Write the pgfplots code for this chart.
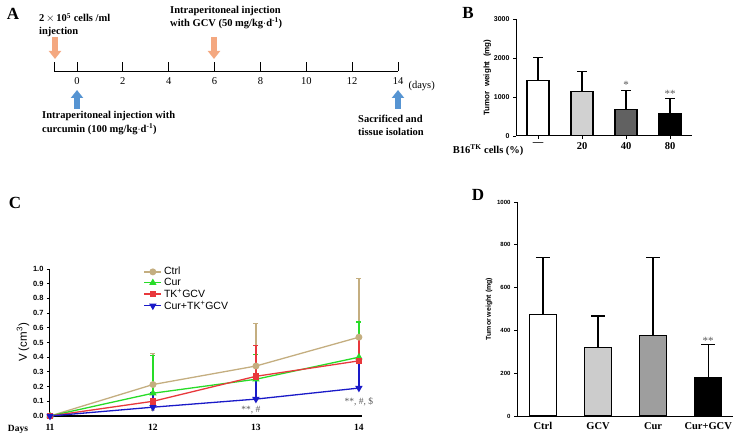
\documentclass[border=0pt]{standalone}
\usepackage{fontspec}
\setmainfont{Liberation Serif}
\setsansfont{Liberation Sans}
\usepackage{pgfplots}
\pgfplotsset{compat=1.18}
\usetikzlibrary{arrows.meta}

\definecolor{arrowor}{RGB}{244,168,128}
\definecolor{arrowbl}{RGB}{86,148,210}
\definecolor{ctrl}{RGB}{196,174,128}
\definecolor{cur}{RGB}{40,220,40}
\definecolor{tk}{RGB}{232,56,60}
\definecolor{curtk}{RGB}{26,26,200}
\definecolor{note}{RGB}{90,90,90}

\begin{document}
\begin{tikzpicture}[x=1pt,y=1pt]
\path[use as bounding box] (0,0) rectangle (748,437);

% panel letters
\node[font=\bfseries\fontsize{17}{17}\selectfont] at (13,423) {A};
\node[font=\bfseries\fontsize{17}{17}\selectfont] at (468,424) {B};
\node[font=\bfseries\fontsize{17}{17}\selectfont] at (15,234) {C};
\node[font=\bfseries\fontsize{17}{17}\selectfont] at (478,242) {D};

% ---------------- A: timeline
\begin{axis}[
    at={(54pt,366pt)}, anchor=south west,
    scale only axis, width=344pt, height=20pt,
    xmin=-1, xmax=14, ymin=0, ymax=1,
    axis x line=bottom, axis y line=none,
    axis line style={-, line width=0.8pt},
    xtick={-1,0,2,4,6,8,10,12,14},
    xticklabels={,0,2,4,6,8,10,12,14},
    tick align=inside, major tick length=9pt,
    tick style={line width=0.8pt, black},
    xticklabel style={font=\fontsize{10.5}{12}\selectfont, yshift=-3pt},
]
\end{axis}
\node[anchor=west, font=\fontsize{10.5}{12}\selectfont] at (405,351) {(days)};
\draw[arrowor, line width=6pt, -{Triangle[width=12pt,length=8pt]}] (55,400) -- (55,378);
\draw[arrowor, line width=6pt, -{Triangle[width=12pt,length=8pt]}] (214,400) -- (214,378);
\draw[arrowbl, line width=6pt, -{Triangle[width=12pt,length=8pt]}] (77,328) -- (77,347);
\draw[arrowbl, line width=6pt, -{Triangle[width=12pt,length=8pt]}] (398,328) -- (398,347);
\node[anchor=north west, align=left, font=\bfseries\fontsize{10.5}{13}\selectfont, inner sep=0pt]
  at (39,424) {2\,$\times$\,10\textsuperscript{5} cells /ml\\ injection};
\node[anchor=north west, align=left, font=\bfseries\fontsize{10.5}{13}\selectfont, inner sep=0pt]
  at (170,431) {Intraperitoneal injection\\with GCV (50 mg/kg$\cdot$d\textsuperscript{-1})};
\node[anchor=north west, align=left, font=\bfseries\fontsize{10.5}{14}\selectfont, inner sep=0pt]
  at (42,326) {Intraperitoneal injection with\\curcumin (100 mg/kg$\cdot$d\textsuperscript{-1})};
\node[anchor=north west, align=left, font=\bfseries\fontsize{10.5}{13}\selectfont, inner sep=0pt]
  at (358,322) {Sacrificed and\\tissue isolation};

% ---------------- B
\begin{axis}[
    at={(516pt,301pt)}, anchor=south west,
    scale only axis, width=176pt, height=117pt,
    xmin=-0.5, xmax=3.5, ymin=0, ymax=3000,
    axis lines=left, axis line style={-, line width=1pt},
    xtick={0,1,2,3}, xticklabels={---,20,40,80},
    ytick={0,1000,2000,3000},
    tick align=outside, major tick length=3pt,
    tick style={line width=0.8pt, black},
    /pgf/number format/assume math mode=true,
    /pgf/number format/1000 sep={},
    yticklabel style={font=\sffamily\bfseries\fontsize{7}{8}\selectfont},
    xticklabel style={font=\bfseries\fontsize{10.5}{12}\selectfont},
    ylabel={Tumor\ \ weight\ \ (mg)},
    ylabel style={font=\sffamily\bfseries\fontsize{8}{9}\selectfont, yshift=-4pt},
    error bars/error bar style={line width=1.1pt, black},
    error bars/error mark options={rotate=90, mark size=5pt, line width=1.1pt, black},
]
\addplot[ybar, bar shift=0pt, bar width=22pt, draw=black, line width=1.1pt, fill=white,
  error bars/.cd, y dir=plus, y explicit] coordinates {(0,1430) +- (0,580)};
\addplot[ybar, bar shift=0pt, bar width=22pt, draw=black, line width=1.1pt, fill=black!18,
  error bars/.cd, y dir=plus, y explicit] coordinates {(1,1150) +- (0,510)};
\addplot[ybar, bar shift=0pt, bar width=22pt, draw=black, line width=1.1pt, fill=black!62,
  error bars/.cd, y dir=plus, y explicit] coordinates {(2,670) +- (0,490)};
\addplot[ybar, bar shift=0pt, bar width=22pt, draw=black, line width=1.1pt, fill=black,
  error bars/.cd, y dir=plus, y explicit] coordinates {(3,580) +- (0,370)};
\node[note, font=\fontsize{11}{11}\selectfont] at (axis cs:2,1300) {*};
\node[note, font=\fontsize{11}{11}\selectfont] at (axis cs:3,1080) {**};
\end{axis}
\node[anchor=east, font=\bfseries\fontsize{10.5}{12}\selectfont] at (527,287) {B16\textsuperscript{TK} cells (\%)};

% ---------------- C
\begin{axis}[
    at={(50pt,21pt)}, anchor=south west,
    scale only axis, width=312pt, height=147pt,
    xmin=11, xmax=14.03, ymin=0, ymax=1,
    clip=false,
    axis lines=left, axis line style={-},
    y axis line style={line width=1pt},
    x axis line style={line width=1.6pt},
    xtick={11,12,13,14},
    ytick={0,0.1,...,1.0},
    major x tick style={draw=none},
    tick align=outside, major tick length=3pt,
    tick style={line width=0.8pt, black},
    /pgf/number format/assume math mode=true,
    yticklabel style={font=\sffamily\bfseries\fontsize{7.5}{8}\selectfont,
      /pgf/number format/fixed, /pgf/number format/fixed zerofill,
      /pgf/number format/precision=1},
    xticklabel style={font=\bfseries\fontsize{9.5}{11}\selectfont, yshift=-2pt},
    ylabel={V (cm\textsuperscript{3})},
    ylabel style={font=\sffamily\fontsize{11.5}{12}\selectfont, yshift=-3pt},
    legend style={draw=none, fill=none, at={(0.29,1.04)}, anchor=north west,
      font=\sffamily\fontsize{10.5}{11}\selectfont, row sep=-2pt},
    legend cell align=left,
    error bars/error bar style={line width=1.2pt},
    error bars/error mark options={rotate=90, mark size=2.5pt, line width=1.2pt},
]
\addplot[ctrl, line width=1.3pt, mark=*, mark size=2.8pt,
  error bars/.cd, y dir=plus, y explicit]
  coordinates {(11,0) +- (0,0) (12,0.214) +- (0,0.213) (13,0.34) +- (0,0.287) (14,0.536) +- (0,0.398)};
\addlegendentry{Ctrl}
\addplot[cur, line width=1.3pt, mark=triangle*, mark size=3pt,
  error bars/.cd, y dir=plus, y explicit]
  coordinates {(11,0) +- (0,0) (12,0.155) +- (0,0.255) (13,0.25) +- (0,0.17) (14,0.40) +- (0,0.24)};
\addlegendentry{Cur}
\addplot[tk, line width=1.3pt, mark=square*, mark size=2.6pt,
  error bars/.cd, y dir=plus, y explicit]
  coordinates {(11,0) +- (0,0) (12,0.10) +- (0,0.06) (13,0.27) +- (0,0.21) (14,0.375) +- (0,0.15)};
\addlegendentry{TK\textsuperscript{+}GCV}
\addplot[curtk, line width=1.3pt, mark=triangle*, mark size=3pt, mark options={rotate=180},
  error bars/.cd, y dir=plus, y explicit]
  coordinates {(11,0) +- (0,0) (12,0.06) +- (0,0.10) (13,0.115) +- (0,0.135) (14,0.19) +- (0,0.18)};
\addlegendentry{Cur+TK\textsuperscript{+}GCV}
\node[note, font=\fontsize{9}{9}\selectfont] at (axis cs:12,0.03) {*};
\node[note, font=\fontsize{9.5}{10}\selectfont] at (axis cs:12.95,0.04) {**, \#};
\node[note, font=\fontsize{9.5}{10}\selectfont] at (axis cs:14.0,0.10) {**, \#, \$};
\end{axis}
\node[font=\bfseries\fontsize{9.5}{11}\selectfont] at (18,8) {Days};

% ---------------- D
\begin{axis}[
    at={(517pt,21pt)}, anchor=south west,
    scale only axis, width=216pt, height=214pt,
    xmin=-0.47, xmax=3.45, ymin=0, ymax=1000,
    axis lines=left, axis line style={-, line width=1pt},
    xtick={0,1,2,3}, xticklabels={Ctrl,GCV,Cur,Cur+GCV},
    ytick={0,200,...,1000},
    major x tick style={draw=none},
    tick align=outside, major tick length=3pt,
    tick style={line width=0.8pt, black},
    /pgf/number format/assume math mode=true,
    /pgf/number format/1000 sep={},
    yticklabel style={font=\sffamily\bfseries\fontsize{6}{7}\selectfont},
    xticklabel style={font=\bfseries\fontsize{10.5}{12}\selectfont},
    ylabel={Tumor weight (mg)},
    ylabel style={font=\sffamily\bfseries\fontsize{7}{8}\selectfont, yshift=-2pt},
    error bars/error bar style={line width=1.3pt, black},
    error bars/error mark options={rotate=90, mark size=7pt, line width=1.3pt, black},
]
\addplot[ybar, bar shift=0pt, bar width=27pt, draw=black, line width=1.3pt, fill=white,
  error bars/.cd, y dir=plus, y explicit] coordinates {(0,475) +- (0,265)};
\addplot[ybar, bar shift=0pt, bar width=27pt, draw=black, line width=1.3pt, fill=black!20,
  error bars/.cd, y dir=plus, y explicit] coordinates {(1,320) +- (0,147)};
\addplot[ybar, bar shift=0pt, bar width=27pt, draw=black, line width=1.3pt, fill=black!38,
  error bars/.cd, y dir=plus, y explicit] coordinates {(2,377) +- (0,365)};
\addplot[ybar, bar shift=0pt, bar width=27pt, draw=black, line width=1.3pt, fill=black,
  error bars/.cd, y dir=plus, y explicit] coordinates {(3,178) +- (0,157)};
\node[note, font=\fontsize{11}{11}\selectfont] at (axis cs:3,352) {**};
\end{axis}
\end{tikzpicture}
\end{document}
